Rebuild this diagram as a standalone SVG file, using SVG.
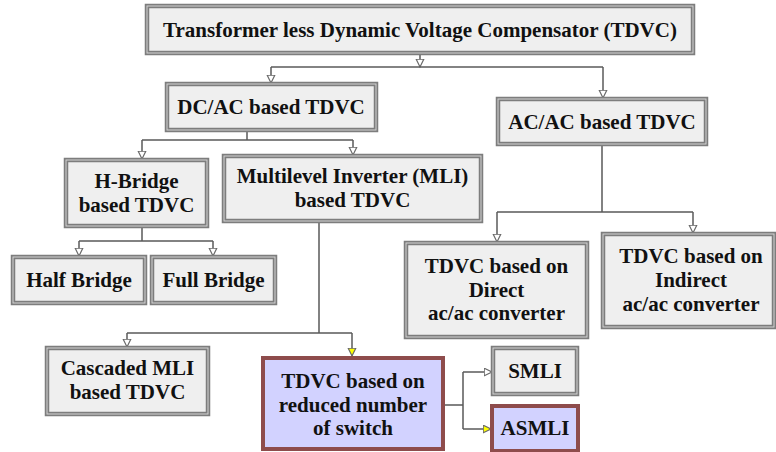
<svg xmlns="http://www.w3.org/2000/svg" width="776" height="452" viewBox="0 0 776 452">
<style>
.g{fill:#efefef;stroke:#7d7d7d;stroke-width:4.5}
.gi{fill:none;stroke:#d4d4d4;stroke-width:1}
.p{fill:#d2d2ff;stroke:#8e4c4c;stroke-width:4}
.t{font-family:'Liberation Serif','Times New Roman',Times,Tinos,'Nimbus Roman','Nimbus Roman No9 L',FreeSerif,'Noto Serif','DejaVu Serif',serif;font-weight:bold;font-size:21px;fill:#111;text-anchor:middle}
.c{fill:none;stroke:#5a5a5a;stroke-width:1.5}
</style>
<defs>
<marker id="ah" markerUnits="userSpaceOnUse" markerWidth="10" markerHeight="10" refX="8.5" refY="4.5" orient="auto" viewBox="0 0 10 10">
<path d="M0.7,0.7 L8.5,4.5 L0.7,8.3 z" fill="#fff" stroke="#6a6a6a" stroke-width="1.2"/>
</marker>
<marker id="ay" markerUnits="userSpaceOnUse" markerWidth="10" markerHeight="10" refX="8.5" refY="4.5" orient="auto" viewBox="0 0 10 10">
<path d="M0.7,0.7 L8.5,4.5 L0.7,8.3 z" fill="#ffff00" stroke="#6a6a6a" stroke-width="1.2"/>
</marker>
</defs>

<g id="connectors">
<path class="c" d="M420,53 V67" marker-end="url(#ah)"/>
<path class="c" d="M271,67 H603"/>
<path class="c" d="M271,67 V83" marker-end="url(#ah)"/>
<path class="c" d="M603,67 V98" marker-end="url(#ah)"/>
<path class="c" d="M247,131 V140 M142,140 H353"/>
<path class="c" d="M142,140 V159" marker-end="url(#ah)"/>
<path class="c" d="M353,140 V155" marker-end="url(#ah)"/>
<path class="c" d="M602,145 V212 M497,212 H693"/>
<path class="c" d="M497,212 V242" marker-end="url(#ah)"/>
<path class="c" d="M693,212 V233" marker-end="url(#ah)"/>
<path class="c" d="M142,227 V241 M79,241 H213"/>
<path class="c" d="M79,241 V256" marker-end="url(#ah)"/>
<path class="c" d="M213,241 V256" marker-end="url(#ah)"/>
<path class="c" d="M319,222 V333 M127,333 H352"/>
<path class="c" d="M127,333 V347" marker-end="url(#ah)"/>
<path class="c" d="M352,333 V356" marker-end="url(#ay)"/>
<path class="c" d="M444,405 H463 M463,372 V429"/>
<path class="c" d="M463,372 H492" marker-end="url(#ah)"/>
<path class="c" d="M463,429 H491" marker-end="url(#ay)"/>
</g>

<g id="n-top">
<rect class="g" x="147" y="6" width="546" height="47"/>
<rect class="gi" x="147" y="6" width="546" height="47"/>
<text class="t" x="420" y="37">Transformer less Dynamic Voltage Compensator (TDVC)</text>
</g>
<g id="n-dcac">
<rect class="g" x="167" y="84" width="209" height="46"/>
<rect class="gi" x="167" y="84" width="209" height="46"/>
<text class="t" x="271" y="114">DC/AC based TDVC</text>
</g>
<g id="n-acac">
<rect class="g" x="498" y="99" width="208" height="45"/>
<rect class="gi" x="498" y="99" width="208" height="45"/>
<text class="t" x="602" y="129">AC/AC based TDVC</text>
</g>
<g id="n-hbridge">
<rect class="g" x="66" y="160" width="141" height="66"/>
<rect class="gi" x="66" y="160" width="141" height="66"/>
<text class="t" x="136.5" y="188">H-Bridge</text>
<text class="t" x="136.5" y="212">based TDVC</text>
</g>
<g id="n-mli">
<rect class="g" x="224" y="156" width="257" height="65"/>
<rect class="gi" x="224" y="156" width="257" height="65"/>
<text class="t" x="352.5" y="183">Multilevel Inverter (MLI)</text>
<text class="t" x="352.5" y="207">based TDVC</text>
</g>
<g id="n-half">
<rect class="g" x="13" y="257" width="132" height="46"/>
<rect class="gi" x="13" y="257" width="132" height="46"/>
<text class="t" x="79" y="287">Half Bridge</text>
</g>
<g id="n-full">
<rect class="g" x="152" y="257" width="123" height="46"/>
<rect class="gi" x="152" y="257" width="123" height="46"/>
<text class="t" x="213.5" y="287">Full Bridge</text>
</g>
<g id="n-direct">
<rect class="g" x="406" y="243" width="181" height="94"/>
<rect class="gi" x="406" y="243" width="181" height="94"/>
<text class="t" x="496.5" y="273">TDVC based on</text>
<text class="t" x="496.5" y="297">Direct</text>
<text class="t" x="496.5" y="320">ac/ac converter</text>
</g>
<g id="n-indirect">
<rect class="g" x="603" y="234" width="171" height="93"/>
<rect class="gi" x="603" y="234" width="171" height="93"/>
<text class="t" x="691" y="263">TDVC based on</text>
<text class="t" x="691" y="287">Indirect</text>
<text class="t" x="691" y="311">ac/ac converter</text>
</g>
<g id="n-cascaded">
<rect class="g" x="47" y="348" width="161" height="66"/>
<rect class="gi" x="47" y="348" width="161" height="66"/>
<text class="t" x="127.5" y="375">Cascaded MLI</text>
<text class="t" x="127.5" y="399">based TDVC</text>
</g>
<g id="n-reduced">
<rect class="p" x="263" y="358" width="180" height="91"/>
<text class="t" x="353" y="388">TDVC based on</text>
<text class="t" x="353" y="412">reduced number</text>
<text class="t" x="353" y="435">of switch</text>
</g>
<g id="n-smli">
<rect class="g" x="493" y="348" width="84" height="46"/>
<rect class="gi" x="493" y="348" width="84" height="46"/>
<text class="t" x="535" y="378">SMLI</text>
</g>
<g id="n-asmli">
<rect class="p" x="492" y="406" width="86" height="45"/>
<text class="t" x="535" y="435">ASMLI</text>
</g>
</svg>
